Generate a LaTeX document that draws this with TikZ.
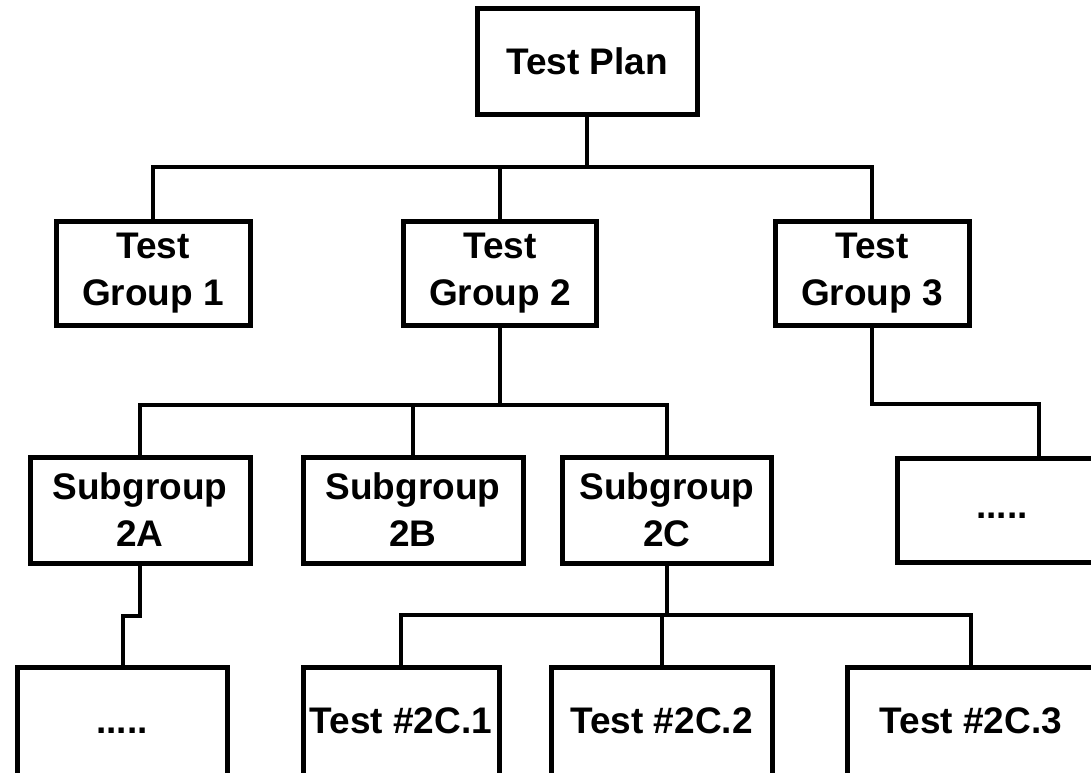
\documentclass[tikz,border=0pt]{standalone}
\usepackage{fontspec}
\setmainfont{Liberation Sans}
\begin{document}
\begin{tikzpicture}[x=1pt,y=-1pt,
  box/.style={draw=black,line width=5pt,fill=white,inner sep=0pt,align=center,
    font=\bfseries\fontsize{37}{47}\selectfont},
  conn/.style={draw=black,line width=4pt}]
\useasboundingbox (0,0) rectangle (1091,772);
\clip (0,0) rectangle (1091,772);
\fill[white] (0,0) rectangle (1091,772);
% bus coordinates
\coordinate (bus1) at (0,167);
\coordinate (bus2) at (0,405);
\coordinate (bus3) at (0,404);
\coordinate (bus4) at (0,615);
\coordinate (bus5) at (0,616);
\coordinate (x3) at (1039,0);
\coordinate (x4) at (123,0);
\node[box,minimum width=220pt,minimum height=106pt] (tp) at (587,61) {Test Plan};
\node[box,minimum width=194pt,minimum height=104pt] (tg1) at (153,273) {Test\\Group 1};
\node[box,minimum width=193pt,minimum height=104pt] (tg2) at (500,273) {Test\\Group 2};
\node[box,minimum width=194pt,minimum height=104pt] (tg3) at (872,273) {Test\\Group 3};
\node[box,minimum width=220pt,minimum height=106pt] (s2a) at (140,510) {Subgroup\\2A};
\node[box,minimum width=220pt,minimum height=106pt] (s2b) at (413,510) {Subgroup\\2B};
\node[box,minimum width=209pt,minimum height=106pt] (s2c) at (667,510) {Subgroup\\2C};
\node[box,minimum width=210pt,minimum height=104pt] (s3x) at (1002,510) {\vphantom{Tg}.....};
\node[box,minimum width=210pt,minimum height=112pt] (b2a) at (122,723) {\raisebox{5pt}{\vphantom{T}.....}};
\node[box,minimum width=196pt,minimum height=112pt] (t1) at (401,723) {\raisebox{5pt}{Test \#2C.1}};
\node[box,minimum width=221pt,minimum height=112pt] (t2) at (661.5,723) {\raisebox{5pt}{Test \#2C.2}};
\node[box,minimum width=248pt,minimum height=112pt] (t3) at (971,723) {\raisebox{5pt}{Test \#2C.3}};
\begin{scope}[line cap=butt,line join=miter]
\draw[conn] (tp.south) -- (tp.south |- bus1) -| (tg1.north);
\draw[conn] (tp.south |- bus1) -| (tg2.north);
\draw[conn] (tp.south |- bus1) -| (tg3.north);
\draw[conn] (tg2.south) -- (tg2.south |- bus2) -| (s2a.north);
\draw[conn] (tg2.south |- bus2) -| (s2b.north);
\draw[conn] (tg2.south |- bus2) -| (s2c.north);
\draw[conn] (tg3.south) -- (tg3.south |- bus3) -- (x3 |- bus3) -- (s3x.north -| x3);
\draw[conn] (s2a.south) -- (s2a.south |- bus5) -- (x4 |- bus5) -- (b2a.north -| x4);
\draw[conn] (s2c.south) -- (s2c.south |- bus4) -| (t1.north);
\draw[conn] (s2c.south |- bus4) -| (t2.north);
\draw[conn] (s2c.south |- bus4) -| (t3.north);
\end{scope}
\end{tikzpicture}
\end{document}
